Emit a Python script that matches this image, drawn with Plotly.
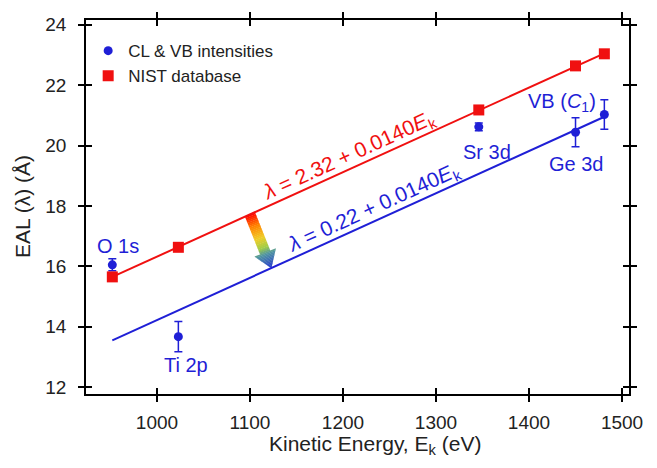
import plotly.graph_objects as go

# ---------------- data ----------------
energy = [952, 1023, 1346, 1450, 1481]            # kinetic energy (eV)
cl_vb_eal = [16.05, 13.67, 20.62, 20.44, 21.03]   # EAL from CL & VB intensities
cl_vb_err = [0.2, 0.5, 0.13, 0.48, 0.49]
nist_eal = [15.65, 16.63, 21.18, 22.64, 23.04]    # NIST database
core_labels = ["O 1s", "Ti 2p", "Sr 3d", "Ge 3d", "VB (<i>C</i><sub>1</sub>)"]
fit_x = [952, 1484]
nist_fit = [2.32, 0.0140]     # intercept, slope
cl_fit = [0.22, 0.0140]
x_ticks = [1000, 1100, 1200, 1300, 1400, 1500]
y_ticks = [12, 14, 16, 18, 20, 22, 24]

# ---------------- layout constants ----------------
W, H = 657, 468
ML, MR, MT, MB = 86, 28, 15, 74
XR = [923.7, 1507.5]
YR = [11.77, 24.16]
BLUE = "#1f1fd6"
RED = "#f01010"
FONT = "Liberation Sans, Arial, sans-serif"

def fit(p, x):
    return p[0] + p[1] * x

red_fit_y = [fit(nist_fit, x) for x in fit_x]
blue_fit_y = [fit(cl_fit, x) for x in fit_x]

fig = go.Figure()
fig.add_trace(go.Scatter(x=fit_x, y=red_fit_y, mode="lines",
                         line=dict(color=RED, width=2), showlegend=False, hoverinfo="skip"))
fig.add_trace(go.Scatter(x=fit_x, y=blue_fit_y, mode="lines",
                         line=dict(color=BLUE, width=2), showlegend=False, hoverinfo="skip"))
fig.add_trace(go.Scatter(x=energy, y=cl_vb_eal, mode="markers", name="CL & VB intensities",
                         marker=dict(color=BLUE, size=9, symbol="circle"),
                         error_y=dict(type="data", array=cl_vb_err, color=BLUE,
                                      thickness=1.5, width=4)))
fig.add_trace(go.Scatter(x=energy, y=nist_eal, mode="markers", name="NIST database",
                         marker=dict(color=RED, size=11, symbol="square")))
# dummy trace for overlay axes (inside ticks)
fig.add_trace(go.Scatter(x=[None], y=[None], xaxis="x2", yaxis="y2",
                         showlegend=False, hoverinfo="skip"))

# ---------------- gradient arrow ----------------
sx = (W - ML - MR) / (XR[1] - XR[0])
sy = (H - MT - MB) / (YR[1] - YR[0])
tail = (1100, fit(nist_fit, 1100))
tip = (1123, fit(cl_fit, 1123))
dxp = (tip[0] - tail[0]) * sx
dyp = -(tip[1] - tail[1]) * sy
L = (dxp ** 2 + dyp ** 2) ** 0.5
ux, uy = dxp / L, dyp / L
nx, ny = -uy, ux
shaft_w, head_w, head_len = 11, 23, 17

def to_data(along, across):
    px = ux * along + nx * across
    py = uy * along + ny * across
    return tail[0] + px / sx, tail[1] - py / sy

stops = [(0.0, (255, 0, 0)), (0.22, (255, 130, 0)), (0.45, (240, 205, 40)),
         (0.63, (160, 205, 70)), (0.74, (80, 150, 160)), (1.0, (35, 55, 205))]

def col(f):
    for (f0, c0), (f1, c1) in zip(stops[:-1], stops[1:]):
        if f <= f1:
            t = (f - f0) / (f1 - f0) if f1 > f0 else 0
            c = [round(a + (b - a) * t) for a, b in zip(c0, c1)]
            return "rgb(%d,%d,%d)" % tuple(c)
    return "rgb(%d,%d,%d)" % stops[-1][1]

def quad(a0, w0, a1, w1, color):
    pts = [to_data(a0, -w0 / 2), to_data(a1, -w1 / 2), to_data(a1, w1 / 2), to_data(a0, w0 / 2)]
    path = "M " + " L ".join("%f,%f" % p for p in pts) + " Z"
    fig.add_shape(type="path", path=path, xref="x", yref="y", fillcolor=color,
                  line=dict(width=0), layer="below")

ns = 24
shaft_len = L - head_len
for i in range(ns):
    a0 = shaft_len * i / ns
    a1 = shaft_len * (i + 1) / ns + 0.4
    quad(a0, shaft_w, a1, shaft_w, col((a0 + a1) / 2 / L))
nh = 12
for i in range(nh):
    a0 = shaft_len + head_len * i / nh
    a1 = shaft_len + head_len * (i + 1) / nh
    w0 = head_w * (1 - i / nh)
    w1 = head_w * (1 - (i + 1) / nh)
    quad(a0, w0, a1 + 0.3, w1, col((a0 + a1) / 2 / L))

# ---------------- annotations ----------------
label_shift = [(6, 19), (8, -28), (8, -25), (0, -32), (-42, 12)]
for x, y, t, (xs, ys) in zip(energy, cl_vb_eal, core_labels, label_shift):
    fig.add_annotation(x=x, y=y, text=t, showarrow=False, xshift=xs, yshift=ys,
                       font=dict(color=BLUE, size=20, family=FONT))

fig.add_annotation(x=1206.5, y=19.67, text="<i>λ</i> = 2.32 + 0.0140<i>E</i><sub>k</sub>",
                   showarrow=False, textangle=-24.5, font=dict(color=RED, size=21, family=FONT))
fig.add_annotation(x=1233.4, y=17.93, text="<i>λ</i> = 0.22 + 0.0140<i>E</i><sub>k</sub>",
                   showarrow=False, textangle=-24.5, font=dict(color=BLUE, size=21, family=FONT))

fig.add_annotation(xref="paper", yref="paper", x=(375 - ML) / (W - ML - MR),
                   y=(H - MB - 446) / (H - MT - MB), yanchor="middle", xanchor="center",
                   text="Kinetic Energy, E<sub>k</sub> (eV)", showarrow=False,
                   font=dict(color="#222", size=21, family=FONT))
fig.add_annotation(xref="paper", yref="paper", x=(22 - ML) / (W - ML - MR),
                   y=0.5, yanchor="middle", xanchor="center", textangle=-90,
                   text="EAL (λ) (Å)", showarrow=False,
                   font=dict(color="#222", size=21, family=FONT))

axis_common = dict(showline=True, linecolor="black", linewidth=1.5, mirror="ticks",
                   ticklen=6, tickwidth=1.5, tickcolor="black", showgrid=False, zeroline=False)

fig.update_layout(
    width=W, height=H, margin=dict(l=ML, r=MR, t=MT, b=MB),
    plot_bgcolor="white", paper_bgcolor="white",
    font=dict(family=FONT, color="#222", size=19),
    xaxis=dict(range=XR, tickvals=x_ticks, ticks="outside", ticklabelstandoff=4,
               tickfont=dict(size=19), **axis_common),
    yaxis=dict(range=YR, tickvals=y_ticks, ticks="outside", ticklabelstandoff=8,
               tickfont=dict(size=19), **axis_common),
    xaxis2=dict(range=XR, tickvals=x_ticks, ticks="inside", overlaying="x", showticklabels=False,
                **axis_common),
    yaxis2=dict(range=YR, tickvals=y_ticks, ticks="inside", overlaying="y", showticklabels=False,
                **axis_common),
    legend=dict(x=0.004, y=0.965, xanchor="left", yanchor="top", bgcolor="rgba(0,0,0,0)",
                font=dict(size=17, color="#222"), tracegroupgap=2),
    showlegend=True,
)

fig.write_html("out.html")
